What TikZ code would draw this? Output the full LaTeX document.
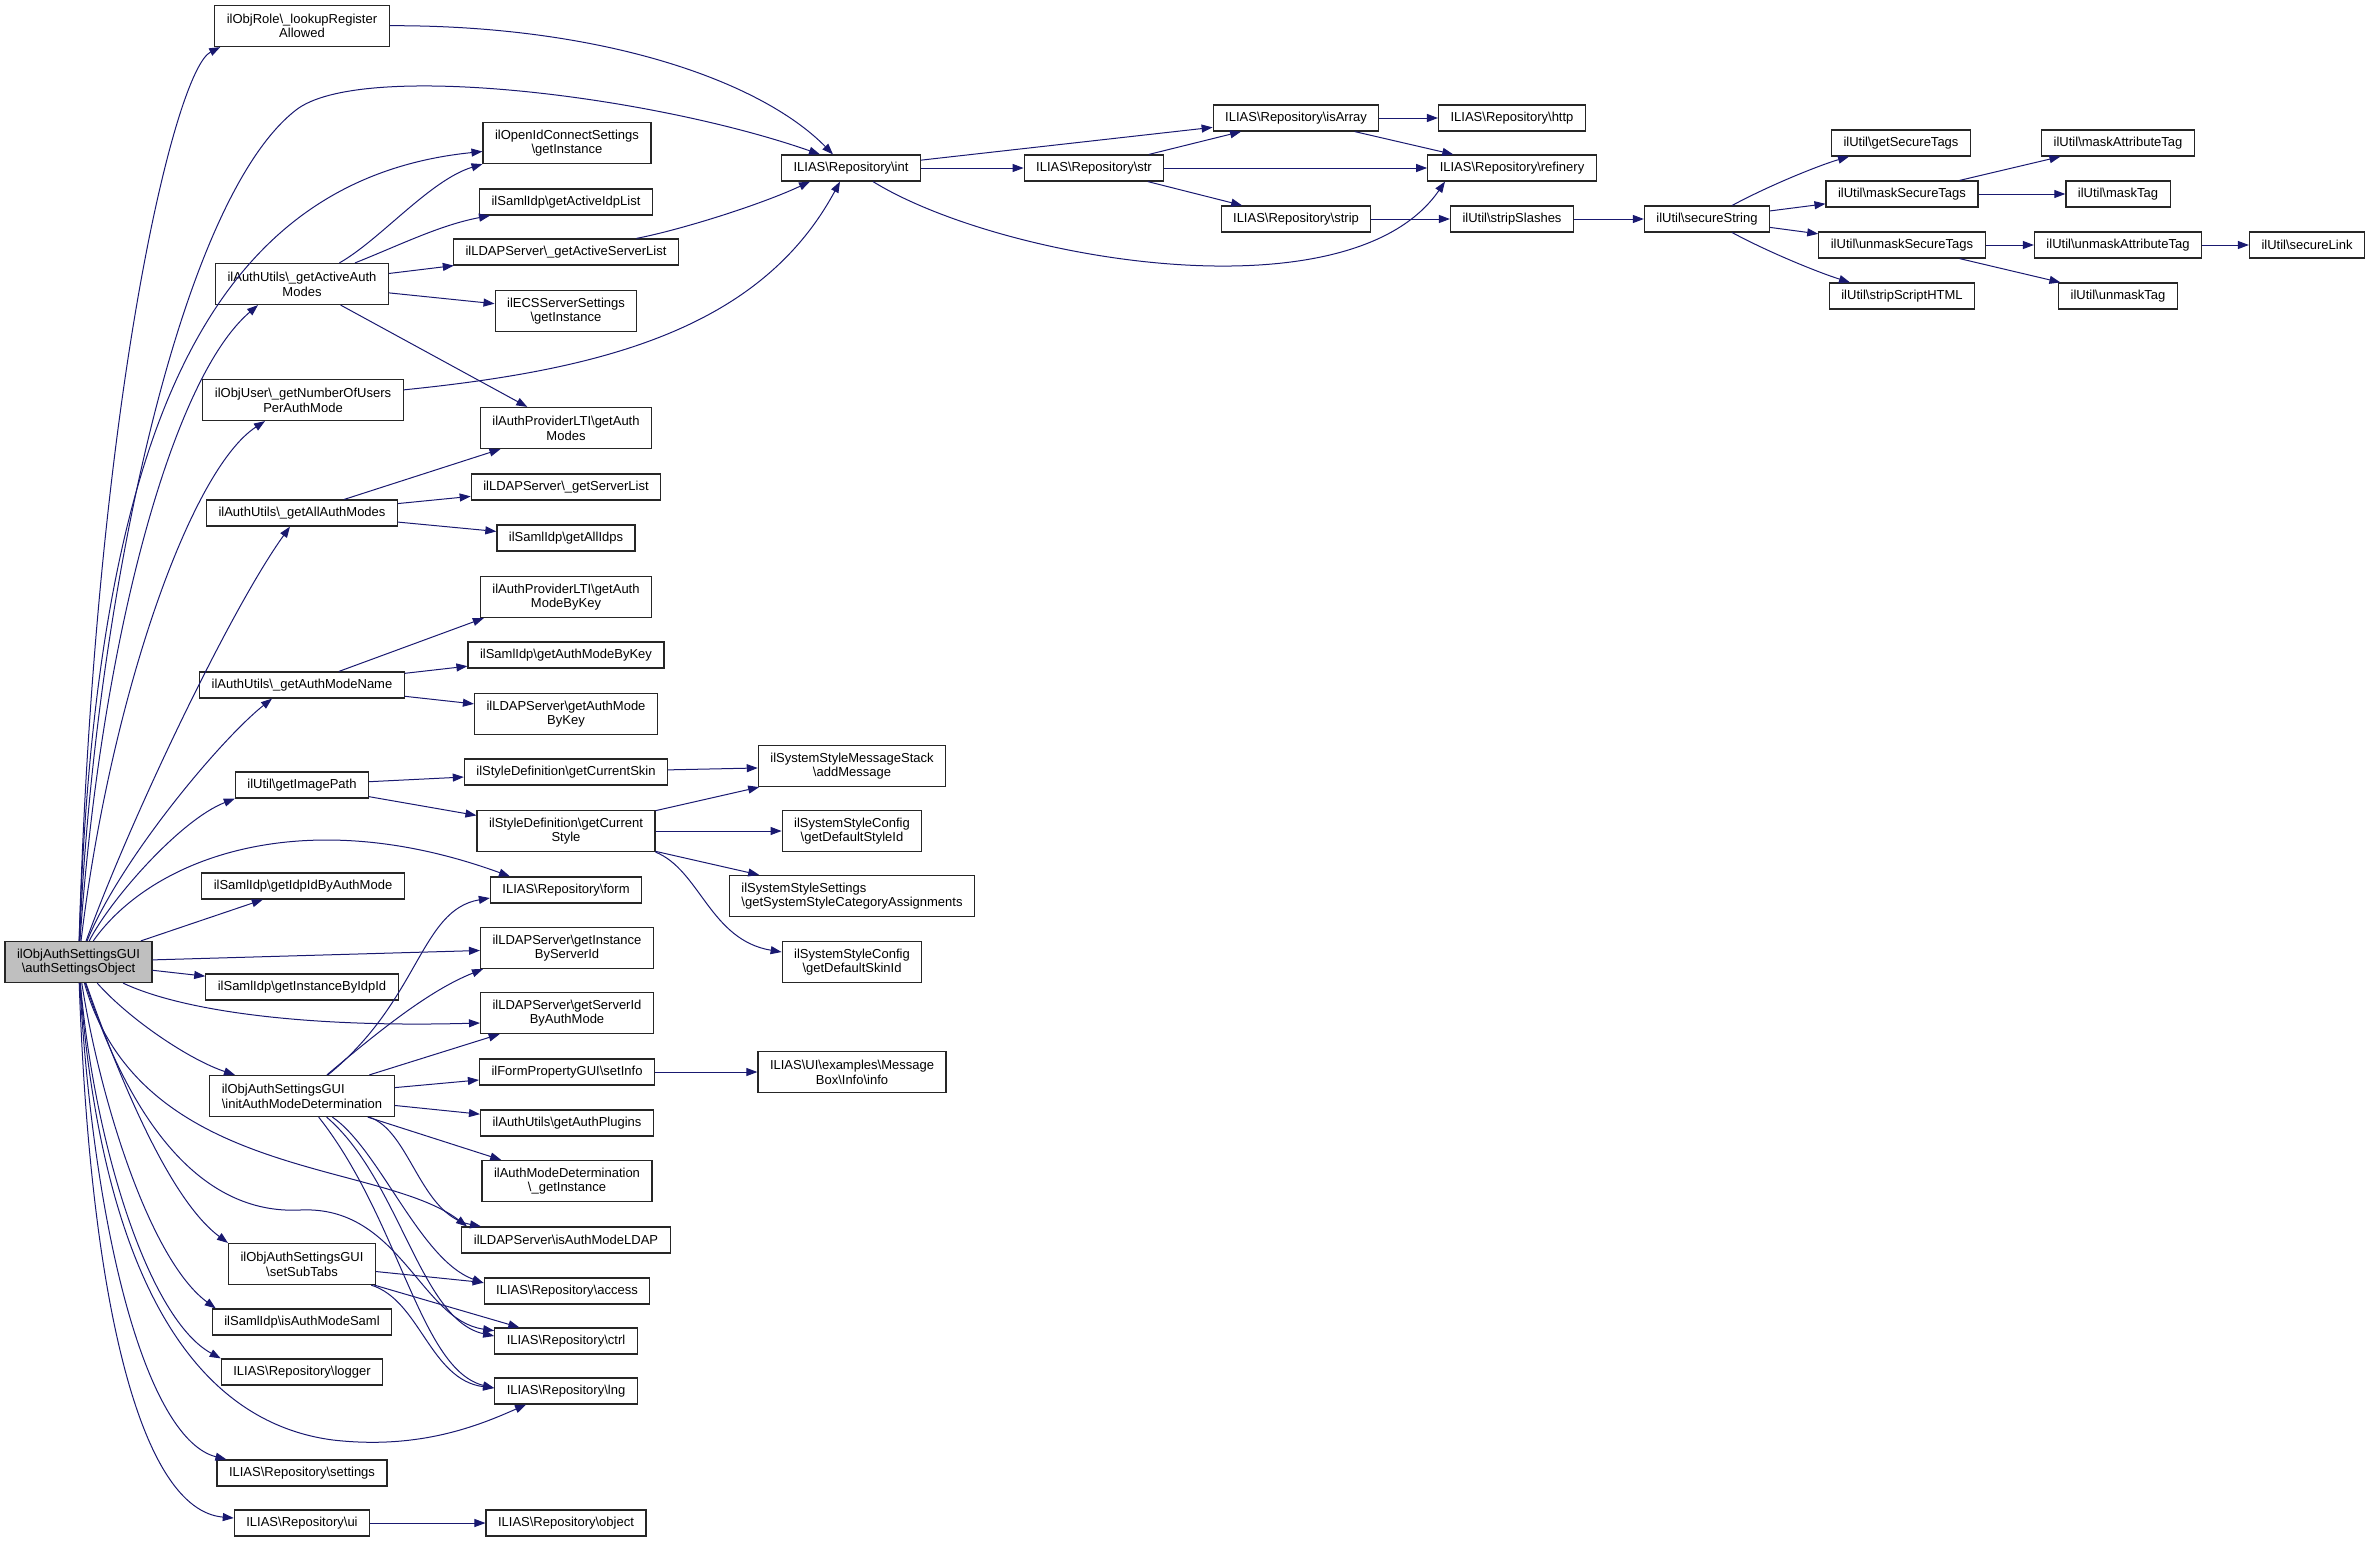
\documentclass[tikz,border=0pt]{standalone}
\usepackage{fontspec}
\setmainfont{Liberation Sans}
\usetikzlibrary{arrows.meta}
\definecolor{edgeblue}{HTML}{191970}
\definecolor{rootgray}{HTML}{BFBFBF}
\newcommand{\bks}{\textbackslash}
\begin{document}
\begin{tikzpicture}
  [x=1pt,y=-1pt,every node/.style={draw=black!85,line width=1.2pt,fill=white,inner xsep=12pt,inner ysep=2pt,minimum height=26pt,align=center,font=\fontsize{13}{14.7}\selectfont}]
  \tikzstyle{two} = [minimum height=41pt]
  \tikzstyle{callline} = [draw=edgeblue,line width=1pt,-{Triangle[length=11pt,width=8pt]}]
  \useasboundingbox (0,0) rectangle (2372,1545);

  \node[two,fill=rootgray] (n1) at (78.5,962) {ilObjAuthSettingsGUI\\\bks authSettingsObject};
  \node[two] (n2) at (302,26) {ilObjRole\bks\_lookupRegister\\Allowed};
  \node (n3) at (851,168) {ILIAS\bks Repository\bks int};
  \node[two] (n4) at (567,143) {ilOpenIdConnectSettings\\\bks getInstance};
  \node[two] (n5) at (302,284) {ilAuthUtils\bks\_getActiveAuth\\Modes};
  \node (n6) at (566,202) {ilSamlIdp\bks getActiveIdpList};
  \node (n7) at (566,252) {ilLDAPServer\bks\_getActiveServerList};
  \node[two] (n8) at (566,311) {ilECSServerSettings\\\bks getInstance};
  \node[two] (n9) at (303,400) {ilObjUser\bks\_getNumberOfUsers\\PerAuthMode};
  \node[two] (n10) at (566,428) {ilAuthProviderLTI\bks getAuth\\Modes};
  \node (n11) at (566,487) {ilLDAPServer\bks\_getServerList};
  \node (n12) at (302,513) {ilAuthUtils\bks\_getAllAuthModes};
  \node (n13) at (566,538) {ilSamlIdp\bks getAllIdps};
  \node[two] (n14) at (566,597) {ilAuthProviderLTI\bks getAuth\\ModeByKey};
  \node (n15) at (566,655) {ilSamlIdp\bks getAuthModeByKey};
  \node (n16) at (302,685) {ilAuthUtils\bks\_getAuthModeName};
  \node[two] (n17) at (566,714) {ilLDAPServer\bks getAuthMode\\ByKey};
  \node (n18) at (302,785) {ilUtil\bks getImagePath};
  \node (n19) at (566,772) {ilStyleDefinition\bks getCurrentSkin};
  \node[two] (n20) at (852,766) {ilSystemStyleMessageStack\\\bks addMessage};
  \node[two] (n21) at (566,831) {ilStyleDefinition\bks getCurrent\\Style};
  \node[two] (n22) at (852,831) {ilSystemStyleConfig\\\bks getDefaultStyleId};
  \node (n23) at (566,890) {ILIAS\bks Repository\bks form};
  \node (n24) at (303,886) {ilSamlIdp\bks getIdpIdByAuthMode};
  \node[two,align=left] (n25) at (852,896) {ilSystemStyleSettings\\\bks getSystemStyleCategoryAssignments};
  \node[two] (n26) at (567,948) {ilLDAPServer\bks getInstance\\ByServerId};
  \node (n27) at (302,987) {ilSamlIdp\bks getInstanceByIdpId};
  \node[two] (n28) at (852,962) {ilSystemStyleConfig\\\bks getDefaultSkinId};
  \node[two] (n29) at (567,1013) {ilLDAPServer\bks getServerId\\ByAuthMode};
  \node[two,align=left] (n30) at (302,1096) {ilObjAuthSettingsGUI\\\bks initAuthModeDetermination};
  \node (n31) at (567,1072) {ilFormPropertyGUI\bks setInfo};
  \node[two] (n32) at (852,1072) {ILIAS\bks UI\bks examples\bks Message\\Box\bks Info\bks info};
  \node (n33) at (567,1123) {ilAuthUtils\bks getAuthPlugins};
  \node[two] (n34) at (567,1181) {ilAuthModeDetermination\\\bks\_getInstance};
  \node (n35) at (566,1240) {ilLDAPServer\bks isAuthModeLDAP};
  \node[two] (n36) at (302,1264) {ilObjAuthSettingsGUI\\\bks setSubTabs};
  \node (n37) at (567,1291) {ILIAS\bks Repository\bks access};
  \node (n38) at (302,1322) {ilSamlIdp\bks isAuthModeSaml};
  \node (n39) at (566,1341) {ILIAS\bks Repository\bks ctrl};
  \node (n40) at (302,1372) {ILIAS\bks Repository\bks logger};
  \node (n41) at (566,1391) {ILIAS\bks Repository\bks lng};
  \node (n42) at (302,1473) {ILIAS\bks Repository\bks settings};
  \node (n43) at (302,1523) {ILIAS\bks Repository\bks ui};
  \node (n44) at (566,1523) {ILIAS\bks Repository\bks object};
  \node (n45) at (1094,168) {ILIAS\bks Repository\bks str};
  \node (n46) at (1296,118) {ILIAS\bks Repository\bks isArray};
  \node (n47) at (1512,118) {ILIAS\bks Repository\bks http};
  \node (n48) at (1512,168) {ILIAS\bks Repository\bks refinery};
  \node (n49) at (1296,219) {ILIAS\bks Repository\bks strip};
  \node (n50) at (1512,219) {ilUtil\bks stripSlashes};
  \node (n51) at (1707,219) {ilUtil\bks secureString};
  \node (n52) at (1901,143) {ilUtil\bks getSecureTags};
  \node (n53) at (1902,194) {ilUtil\bks maskSecureTags};
  \node (n54) at (1902,245) {ilUtil\bks unmaskSecureTags};
  \node (n55) at (1902,296) {ilUtil\bks stripScriptHTML};
  \node (n56) at (2118,143) {ilUtil\bks maskAttributeTag};
  \node (n57) at (2118,194) {ilUtil\bks maskTag};
  \node (n58) at (2118,245) {ilUtil\bks unmaskAttributeTag};
  \node (n59) at (2118,296) {ilUtil\bks unmaskTag};
  \node (n60) at (2307,245) {ilUtil\bks secureLink};

\foreach \source /\dest in {n1/n24,n1/n26,n1/n27,n5/n7,n5/n8,n5/n10,n12/n10,n12/n11,n12/n13,n16/n15,n16/n17}
   \draw[callline] (\source) -- (\dest);
\foreach \source /\dest in {n18/n19,n18/n21,n19/n20,n21/n20,n21/n22,n21/n25,n30/n29,n30/n31,n30/n33,n30/n34,n36/n37,n36/n39,n31/n32,n43/n44}
   \draw[callline] (\source) -- (\dest);
\foreach \source /\dest in {n3/n46,n3/n45,n45/n46,n45/n48,n45/n49,n46/n47,n46/n48,n49/n50,n50/n51,n51/n53,n51/n54,n53/n56,n53/n57,n54/n58,n54/n59,n58/n60}
   \draw[callline] (\source) -- (\dest);

  \draw[callline] (n1) .. controls (95,400) and (175,70) .. ([xshift=6pt]n2.south west);
  \draw[callline] (n1) .. controls (95,600) and (180,200) .. (296,110) .. controls (360,60) and (650,95) .. ([xshift=-31pt]n3.north);
  \draw[callline] (n1) .. controls (95,450) and (200,180) .. (n4);
  \draw[callline] (n1) .. controls (100,650) and (170,380) .. ([xshift=-44pt]n5.south);
  \draw[callline] (n1) .. controls (110,700) and (190,470) .. ([xshift=-38pt]n9.south);
  \draw[callline] (n1) .. controls (130,820) and (230,610) .. ([xshift=-12pt]n12.south);
  \draw[callline] (n1) .. controls (120,860) and (220,740) .. ([xshift=-30pt]n16.south);
  \draw[callline] (n1) .. controls (110,900) and (180,820) .. (n18.south west);
  \draw[callline] (n1) .. controls (150,860) and (300,800) .. ([xshift=-56pt]n23.north);
  \draw[callline] (n1) .. controls (180,1010) and (300,1028) .. ([yshift=-10pt]n29.west);
  \draw[callline] (n1) .. controls (130,1020) and (190,1060) .. ([xshift=-67pt]n30.north);
  \draw[callline] (n1) .. controls (140,1180) and (380,1160) .. ([xshift=-99pt]n35.north);
  \draw[callline] (n1) .. controls (120,1080) and (170,1200) .. (n36.north west);
  \draw[callline] (n1) .. controls (130,1120) and (200,1215) .. (300,1210) .. controls (400,1205) and (420,1320) .. (n39);
  \draw[callline] (n1) .. controls (100,1100) and (150,1260) .. ([xshift=4pt]n38.north west);
  \draw[callline] (n1) .. controls (95,1150) and (150,1320) .. (n40.north west);
  \draw[callline] (n1) .. controls (100,1250) and (180,1420) .. (333,1440) .. controls (420,1450) and (480,1425) .. ([xshift=-40pt]n41.south);
  \draw[callline] (n1) .. controls (95,1250) and (150,1440) .. ([xshift=10pt]n42.north west);
  \draw[callline] (n1) .. controls (90,1300) and (140,1510) .. ([yshift=5pt]n43.west);

  \draw[callline] (n2) .. controls (600,25) and (760,80) .. ([xshift=-18pt]n3.north);
  \draw[callline] (n5) .. controls (380,240) and (430,180) .. (n4.south west);
  \draw[callline] (n5) .. controls (400,245) and (440,225) .. ([xshift=-76pt]n6.south);
  \draw[callline] (n9) .. controls (600,370) and (760,330) .. ([xshift=-11pt]n3.south);
  \draw[callline] (n7) .. controls (680,230) and (760,205) .. ([xshift=-41pt]n3.south);
  \draw[callline] (n16) -- ([xshift=4pt]n14.south west);
  \draw[callline] (n21.south east) .. controls (700,870) and (710,940) .. ([yshift=10pt]n28.west);

  \draw[callline] (n30) .. controls (420,1000) and (420,910) .. ([yshift=-8pt]n23.west);
  \draw[callline] (n30) .. controls (380,1030) and (430,990) .. ([xshift=3pt]n26.south west);
  \draw[callline] (n30) .. controls (410,1130) and (420,1215) .. ([xshift=-85pt]n35.north);
  \draw[callline] (n30) .. controls (380,1150) and (420,1260) .. ([yshift=8pt]n37.west);
  \draw[callline] (n30) .. controls (400,1180) and (420,1320) .. ([yshift=5pt]n39.west);
  \draw[callline] (n30) .. controls (400,1220) and (420,1370) .. ([yshift=3pt]n41.west);
  \draw[callline] (n36) .. controls (420,1300) and (430,1380) .. ([yshift=3pt]n41.west);

  \draw[callline] (n3) .. controls (1000,260) and (1350,320) .. ([xshift=-67pt]n48.south);
  \draw[callline] (n51) .. controls (1770,185) and (1820,165) .. ([xshift=-52pt]n52.south);
  \draw[callline] (n51) .. controls (1770,253) and (1820,273) .. ([xshift=-52pt]n55.north);

  \end{tikzpicture}
\end{document}
